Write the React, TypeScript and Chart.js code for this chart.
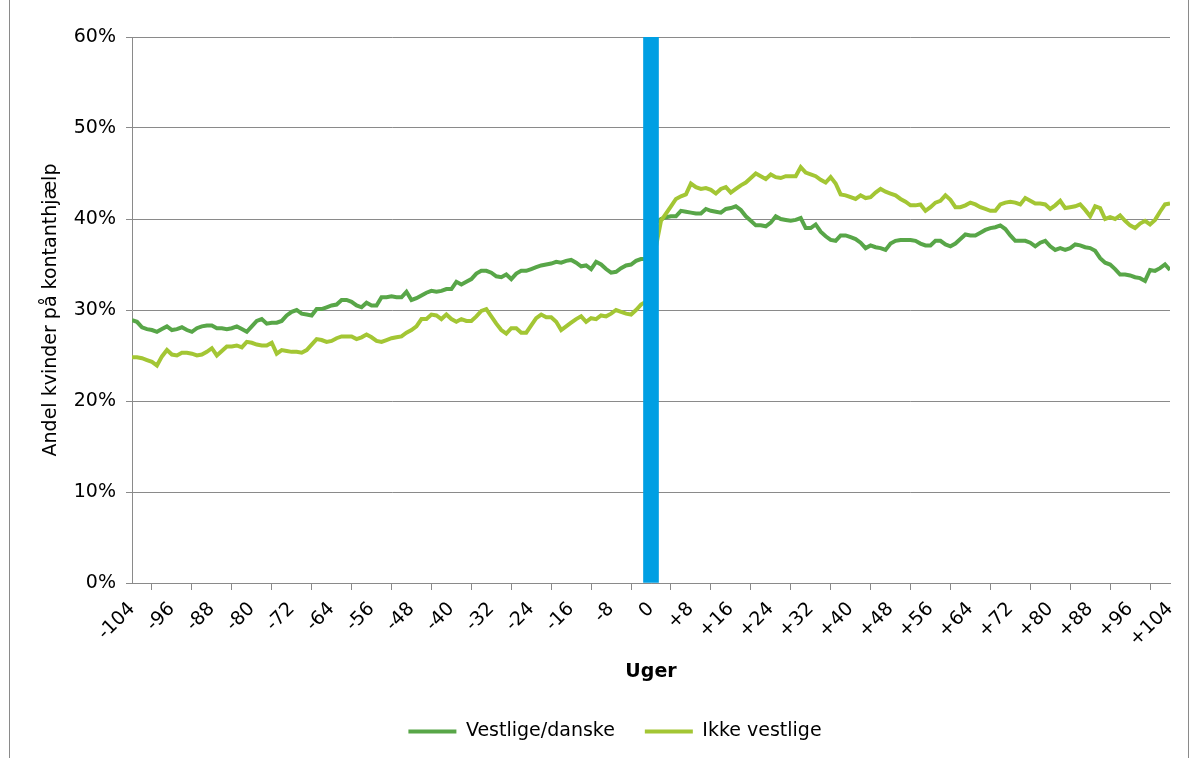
import React, { useEffect, useRef } from 'react';
import { Chart, registerables } from 'chart.js';

Chart.register(...registerables);

// Weeks relative to the event (category positions on the x axis)
const weeks: number[] = [];
for (let w = -104; w <= 104; w++) weeks.push(w);

// Share of women on kontanthjælp (%), weeks -104 .. +104
const vestligeDanske: number[] = [
  28.9, 28.7, 28.1, 27.9, 27.8, 27.6, 27.9, 28.2, 27.8, 27.9,
  28.1, 27.8, 27.6, 28.0, 28.2, 28.3, 28.3, 28.0, 28.0, 27.9,
  28.0, 28.2, 27.9, 27.6, 28.2, 28.8, 29.0, 28.5, 28.6, 28.6,
  28.8, 29.4, 29.8, 30.0, 29.6, 29.5, 29.4, 30.1, 30.1, 30.3,
  30.5, 30.6, 31.1, 31.1, 30.9, 30.5, 30.3, 30.8, 30.5, 30.5,
  31.4, 31.4, 31.5, 31.4, 31.4, 32.0, 31.1, 31.3, 31.6, 31.9,
  32.1, 32.0, 32.1, 32.3, 32.3, 33.1, 32.8, 33.1, 33.4, 34.0,
  34.3, 34.3, 34.1, 33.7, 33.6, 33.9, 33.4, 34.0, 34.3, 34.3,
  34.5, 34.7, 34.9, 35.0, 35.1, 35.3, 35.2, 35.4, 35.5, 35.2,
  34.8, 34.9, 34.5, 35.3, 35.0, 34.5, 34.1, 34.2, 34.6, 34.9,
  35.0, 35.4, 35.6, 35.6, 37.5, 39.6, 40.0, 40.2, 40.3, 40.3,
  40.9, 40.8, 40.7, 40.6, 40.6, 41.1, 40.9, 40.8, 40.7, 41.1,
  41.2, 41.4, 41.0, 40.3, 39.8, 39.3, 39.3, 39.2, 39.6, 40.3,
  40.0, 39.9, 39.8, 39.9, 40.1, 39.0, 39.0, 39.4, 38.6, 38.1,
  37.7, 37.6, 38.2, 38.2, 38.0, 37.8, 37.4, 36.8, 37.1, 36.9,
  36.8, 36.6, 37.3, 37.6, 37.7, 37.7, 37.7, 37.6, 37.3, 37.1,
  37.1, 37.6, 37.6, 37.2, 37.0, 37.3, 37.8, 38.3, 38.2, 38.2,
  38.5, 38.8, 39.0, 39.1, 39.3, 38.9, 38.2, 37.6, 37.6, 37.6,
  37.4, 37.0, 37.4, 37.6, 37.0, 36.6, 36.8, 36.6, 36.8, 37.2,
  37.1, 36.9, 36.8, 36.5, 35.7, 35.2, 35.0, 34.5, 33.9, 33.9,
  33.8, 33.6, 33.5, 33.2, 34.4, 34.3, 34.6, 35.0, 34.4,
];

const ikkeVestlige: number[] = [
  24.8, 24.8, 24.7, 24.5, 24.3, 23.9, 24.9, 25.6, 25.1, 25.0,
  25.3, 25.3, 25.2, 25.0, 25.1, 25.4, 25.8, 25.0, 25.5, 26.0,
  26.0, 26.1, 25.9, 26.5, 26.4, 26.2, 26.1, 26.1, 26.4, 25.2,
  25.6, 25.5, 25.4, 25.4, 25.3, 25.6, 26.2, 26.8, 26.7, 26.5,
  26.6, 26.9, 27.1, 27.1, 27.1, 26.8, 27.0, 27.3, 27.0, 26.6,
  26.5, 26.7, 26.9, 27.0, 27.1, 27.5, 27.8, 28.2, 29.0, 29.0,
  29.5, 29.4, 29.0, 29.5, 29.0, 28.7, 29.0, 28.8, 28.8, 29.3,
  29.9, 30.1, 29.3, 28.5, 27.8, 27.4, 28.0, 28.0, 27.5, 27.5,
  28.3, 29.1, 29.5, 29.2, 29.2, 28.7, 27.8, 28.2, 28.6, 29.0,
  29.3, 28.7, 29.1, 29.0, 29.4, 29.3, 29.6, 30.0, 29.8, 29.6,
  29.5, 30.0, 30.6, 30.9, 33.5, 37.0, 39.8, 40.6, 41.4, 42.2,
  42.5, 42.7, 43.9, 43.5, 43.3, 43.4, 43.2, 42.8, 43.3, 43.5,
  42.9, 43.3, 43.7, 44.0, 44.5, 45.0, 44.7, 44.4, 44.9, 44.6,
  44.5, 44.7, 44.7, 44.7, 45.7, 45.1, 44.9, 44.7, 44.3, 44.0,
  44.6, 43.9, 42.7, 42.6, 42.4, 42.2, 42.6, 42.3, 42.4, 42.9,
  43.3, 43.0, 42.8, 42.6, 42.2, 41.9, 41.5, 41.5, 41.6, 40.9,
  41.3, 41.8, 42.0, 42.6, 42.1, 41.3, 41.3, 41.5, 41.8, 41.6,
  41.3, 41.1, 40.9, 40.9, 41.6, 41.8, 41.9, 41.8, 41.6, 42.3,
  42.0, 41.7, 41.7, 41.6, 41.1, 41.5, 42.0, 41.2, 41.3, 41.4,
  41.6, 41.0, 40.3, 41.4, 41.2, 40.0, 40.2, 40.0, 40.4, 39.8,
  39.3, 39.0, 39.5, 39.8, 39.4, 39.9, 40.8, 41.6, 41.7,
];

// Vertical marker bar at week 0
const markerWeeks: number[] = [0];
const markerValues: number[] = [60];

const seriesLabels: string[] = ['Vestlige/danske', 'Ikke vestlige'];
const yTickValues: number[] = [0, 10, 20, 30, 40, 50, 60];

const FONT = 'DejaVu Sans';
const DARK_GREEN = '#58a648';
const LIGHT_GREEN = '#a3c634';
const BLUE = '#009fe3';
const AXIS_GREY = '#8a8a8a';

const legendShift = {
  id: 'legendShift',
  afterLayout(chart: any) {
    const l = chart.legend;
    if (l) {
      l.left += 10;
      l.right += 10;
      l.top += 9;
      l.bottom += 9;
    }
  },
};

export default function App() {
  const ref = useRef<HTMLCanvasElement | null>(null);

  useEffect(() => {
    document.body.style.margin = '0';
    if (!ref.current) return;
    const chart = new Chart(ref.current, {
      type: 'line',
      data: {
        datasets: [
          {
            type: 'bar',
            label: 'marker',
            data: markerWeeks.map((w, i) => ({ x: w, y: markerValues[i] })),
            backgroundColor: BLUE,
            borderWidth: 0,
            barThickness: 15,
            order: 1,
          } as any,
          {
            type: 'line',
            label: seriesLabels[0],
            data: weeks.map((w, i) => ({ x: w, y: vestligeDanske[i] })),
            borderColor: DARK_GREEN,
            backgroundColor: DARK_GREEN,
            borderWidth: 4,
            pointRadius: 0,
            tension: 0,
            order: 3,
          },
          {
            type: 'line',
            label: seriesLabels[1],
            data: weeks.map((w, i) => ({ x: w, y: ikkeVestlige[i] })),
            borderColor: LIGHT_GREEN,
            backgroundColor: LIGHT_GREEN,
            borderWidth: 4,
            pointRadius: 0,
            tension: 0,
            order: 2,
          },
        ],
      },
      options: {
        responsive: false,
        animation: false,
        layout: { padding: { left: 40, right: 28, top: 37, bottom: 16 } },
        plugins: {
          tooltip: { enabled: false },
          legend: {
            position: 'bottom',
            labels: {
              usePointStyle: true,
              pointStyle: 'line',
              pointStyleWidth: 48,
              padding: 30,
              color: '#000',
              font: { family: FONT, size: 19 },
              filter: (item: any) => item.datasetIndex !== 0,
              sort: (a: any, b: any) => a.datasetIndex - b.datasetIndex,
            },
          },
        },
        scales: {
          x: {
            type: 'linear',
            min: weeks[0],
            max: weeks[weeks.length - 1],
            offset: false,
            ticks: {
              stepSize: 8,
              autoSkip: false,
              minRotation: 45,
              maxRotation: 45,
              padding: 8,
              color: '#000',
              font: { family: FONT, size: 19 },
              callback: (v: any) => (Number(v) > 0 ? '+' + v : String(v)),
            },
            grid: {
              drawOnChartArea: false,
              drawTicks: true,
              tickLength: 7,
              color: AXIS_GREY,
            },
            border: { display: true, color: AXIS_GREY, width: 1 },
            title: {
              display: true,
              text: 'Uger',
              color: '#000',
              font: { family: FONT, size: 19, weight: 'bold' },
              padding: { top: 0, bottom: 0 },
            },
            afterFit: (s: any) => {
              s.height = 100;
            },
          } as any,
          y: {
            min: yTickValues[0],
            max: yTickValues[yTickValues.length - 1],
            ticks: {
              stepSize: 10,
              padding: 10,
              color: '#000',
              font: { family: FONT, size: 19 },
              callback: (v: any) => v + '%',
            },
            grid: {
              color: AXIS_GREY,
              tickLength: 6,
              drawTicks: true,
            },
            border: { display: true, color: AXIS_GREY, width: 1 },
            title: {
              display: true,
              text: 'Andel kvinder på kontanthjælp',
              color: '#000',
              font: { family: FONT, size: 19 },
              padding: 0,
            },
            afterFit: (s: any) => {
              s.width = 92;
            },
          } as any,
        },
      },
      plugins: [legendShift],
    });
    return () => chart.destroy();
  }, []);

  return (
    <div style={{ position: 'relative', width: 1198, height: 758, overflow: 'hidden', background: '#fff' }}>
      <div
        style={{
          position: 'absolute',
          left: 9,
          top: 0,
          width: 1180,
          height: 758,
          borderLeft: '1px solid ' + AXIS_GREY,
          borderRight: '1px solid ' + AXIS_GREY,
          boxSizing: 'border-box',
        }}
      />
      <canvas ref={ref} width={1198} height={758} style={{ position: 'absolute', left: 0, top: 0, width: 1198, height: 758 }} />
    </div>
  );
}
